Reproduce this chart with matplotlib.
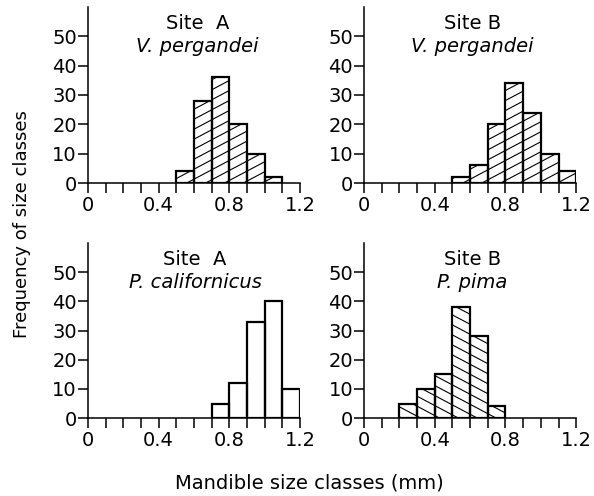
import matplotlib
matplotlib.use('Agg')
import matplotlib.pyplot as plt
from matplotlib.collections import LineCollection
from matplotlib.transforms import IdentityTransform
from matplotlib.ticker import MultipleLocator

plt.rcParams['font.family'] = ['DejaVu Sans']

# ---- data -------------------------------------------------------------
bin_width = 0.1

tl_left = [0.5, 0.6, 0.7, 0.8, 0.9, 1.0]
tl_freq = [4, 28, 36, 20, 10, 2]

tr_left = [0.5, 0.6, 0.7, 0.8, 0.9, 1.0, 1.1]
tr_freq = [2, 6, 20, 34, 24, 10, 4]

bl_left = [0.7, 0.8, 0.9, 1.0, 1.1]
bl_freq = [5, 12, 33, 40, 10]

br_left = [0.2, 0.3, 0.4, 0.5, 0.6, 0.7]
br_freq = [5, 10, 15, 38, 28, 4]

sites = ['Site  A', 'Site B', 'Site  A', 'Site B']
species = ['V. pergandei', 'V. pergandei', 'P. californicus', 'P. pima']

x_major = [0, 0.4, 0.8, 1.2]
x_major_labels = ['0', '0.4', '0.8', '1.2']
y_ticks = [0, 10, 20, 30, 40, 50]

xlabel = 'Mandible size classes (mm)'
ylabel = 'Frequency of size classes'

# ---- figure -----------------------------------------------------------
fig = plt.figure(figsize=(5.94, 4.96), dpi=100)

positions = [
    [0.148, 0.631, 0.357, 0.355],
    [0.613, 0.631, 0.357, 0.355],
    [0.148, 0.157, 0.357, 0.353],
    [0.613, 0.157, 0.357, 0.353],
]
panels = [
    (tl_left, tl_freq, 1),
    (tr_left, tr_freq, 1),
    (bl_left, bl_freq, 0),
    (br_left, br_freq, -1),
]
title_x = [0.516, 0.51, 0.505, 0.51]


def add_hatch(ax, bars, direction, slope=0.53, spacing=10.0):
    bb = ax.bbox
    x0, y0, x1, y1 = bb.x0, bb.y0, bb.x1, bb.y1
    W = x1 - x0
    s = slope
    segs = []
    b = y0 - s * W - spacing
    while b < y1 + s * W + spacing:
        if direction > 0:
            segs.append([(x0, b), (x1, b + s * W)])
        else:
            segs.append([(x0, b + s * W), (x1, b)])
        b += spacing
    for bar in bars:
        lc = LineCollection(segs, transform=IdentityTransform(),
                            colors='black', linewidths=0.8, zorder=2)
        ax.add_collection(lc, autolim=False)
        lc.set_clip_path(bar)


for i, (pos, (left, freq, hdir)) in enumerate(zip(positions, panels)):
    ax = fig.add_axes(pos)
    ax.set_xlim(0, 1.2)
    ax.set_ylim(0, 60)
    fills = ax.bar(left, freq, width=bin_width, align='edge',
                   facecolor='white', edgecolor='none', zorder=1)
    ax.bar(left, freq, width=bin_width, align='edge',
           facecolor='none', edgecolor='black', linewidth=1.6, zorder=3)
    if hdir != 0:
        add_hatch(ax, fills.patches, hdir)

    for sp in ['top', 'right']:
        ax.spines[sp].set_visible(False)
    for sp in ['left', 'bottom']:
        ax.spines[sp].set_linewidth(1.1)
        ax.spines[sp].set_zorder(4)

    ax.set_xticks(x_major)
    ax.set_xticklabels(x_major_labels)
    ax.xaxis.set_minor_locator(MultipleLocator(0.1))
    ax.set_yticks(y_ticks)
    ax.tick_params(axis='x', which='both', direction='out', length=7,
                   width=1.1, pad=2, labelsize=14)
    ax.tick_params(axis='y', which='both', direction='out', length=7,
                   width=1.1, pad=1, labelsize=14)

    ax.text(title_x[i], 0.875, sites[i], transform=ax.transAxes,
            ha='center', va='baseline', fontsize=14)
    ax.text(title_x[i], 0.745, species[i], transform=ax.transAxes,
            ha='center', va='baseline', fontsize=14, style='italic')

fig.text(0.52, 0.026, xlabel, ha='center', va='center', fontsize=14)
fig.text(0.037, 0.548, ylabel, ha='center', va='center', fontsize=13,
         rotation=90)

fig.savefig('out.png', dpi=100)
